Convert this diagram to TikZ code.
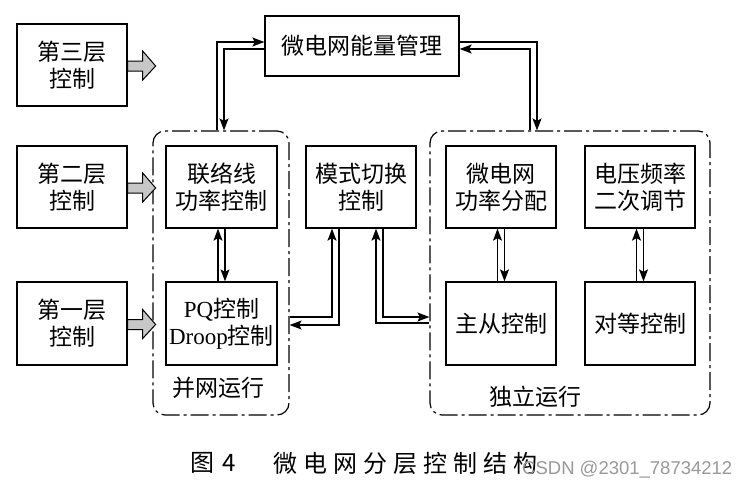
\documentclass[tikz,border=0pt]{standalone}
\usepackage{fontspec}
\setmainfont{Liberation Serif}
\newfontfamily\cjk{Noto Sans CJK SC}
\newfontfamily\capcjk[LetterSpace=25]{Noto Sans CJK SC}
\newfontfamily\wmfont{Liberation Sans}
\usetikzlibrary{arrows.meta,calc}
\tikzset{
  box/.style={draw, line width=1.3pt, inner sep=0pt, align=center,
    minimum width=110pt, minimum height=82pt,
    font=\cjk\fontsize{23}{27}\selectfont},
  region/.style={draw, line width=1.2pt, rounded corners=12pt,
    dash pattern=on 18pt off 4pt on 3pt off 4pt, inner sep=0pt},
  arr/.style={line width=1.2pt, -{Stealth[length=12pt,width=9pt,inset=2.5pt]}},
  blockarrow/.style={draw, line width=1pt, fill=black!22},
  lbl/.style={font=\cjk\fontsize{23}{27}\selectfont, inner sep=0pt}
}
\begin{document}
\begin{tikzpicture}[x=1pt,y=-1pt]
\useasboundingbox[fill=white] (0,0) rectangle (749,491);
% regions
\node[region, minimum width=136pt, minimum height=284pt] (lr) at (221,273) {};
\node[region, minimum width=280pt, minimum height=284pt] (rr) at (570,273) {};
% left layer boxes
\node[box] (l3) at (72,65) {第三层\\控制};
\node[box] (l2) at (72,187) {第二层\\控制};
\node[box, minimum height=83pt] (l1) at (72,323.5) {第一层\\控制};
% top
\node[box, minimum width=194pt, minimum height=60pt] (ems) at (362,46) {微电网能量管理};
% inner boxes
\node[box, minimum width=111pt] (tie) at (221.5,187) {联络线\\功率控制};
\node[box, minimum width=111pt, minimum height=83pt] (pq) at (221.5,323.5) {{\rmfamily PQ}控制\\{\rmfamily Droop}控制};
\node[box] (mode) at (361,187) {模式切换\\控制};
\node[box] (pwr) at (501,187) {微电网\\功率分配};
\node[box] (vf) at (640,187) {电压频率\\二次调节};
\node[box, minimum height=83pt] (ms) at (501,323.5) {主从控制};
\node[box, minimum height=83pt] (peer) at (640,323.5) {对等控制};
% region labels
\node[lbl] (lrl) at (218,388) {并网运行};
\node[lbl] (rrl) at (535,397) {独立运行};
% block arrows
\foreach \b in {l3,l2,l1}{
  \draw[blockarrow] ($(\b.east)+(0,-4)$) -- ++(15,0) -- ++(0,-10)
    -- ($(\b.east)+(28,1)$) -- ($(\b.east)+(15,15)$) -- ++(0,-9)
    -- ($(\b.east)+(0,6)$) -- cycle;
}
% energy management links
\draw[arr] ($(lr.north)+(-4,0)$) |- ($(ems.west)+(0,-4)$);
\draw[arr] ($(ems.west)+(0,3)$) -| ($(lr.north)+(3,0)$);
\draw[arr] ($(ems.east)+(0,-4)$) -| ($(rr.north)+(-33,0)$);
\draw[arr] ($(rr.north)+(-40,0)$) |- ($(ems.east)+(0,3)$);
% vertical pairs
\draw[arr] ($(pq.north)+(-3.5,0)$) -- ($(tie.south)+(-3.5,0)$);
\draw[arr] ($(tie.south)+(3.5,0)$) -- ($(pq.north)+(3.5,0)$);
\draw[arr] ($(ms.north)+(-3.5,0)$) -- ($(pwr.south)+(-3.5,0)$);
\draw[arr] ($(pwr.south)+(3.5,0)$) -- ($(ms.north)+(3.5,0)$);
\draw[arr] ($(peer.north)+(-3.5,0)$) -- ($(vf.south)+(-3.5,0)$);
\draw[arr] ($(vf.south)+(3.5,0)$) -- ($(peer.north)+(3.5,0)$);
% mode switching links
\draw[arr] ($(lr.east)+(0,44)$) -| ($(mode.south)+(-29,0)$);
\draw[arr] ($(mode.south)+(-22,0)$) |- ($(lr.east)+(0,52)$);
\draw[arr] ($(rr.west)+(0,50)$) -| ($(mode.south)+(15,0)$);
\draw[arr] ($(mode.south)+(22,0)$) |- ($(rr.west)+(0,44)$);
% caption
\node[font=\cjk\fontsize{24}{28}\selectfont, inner sep=0pt, anchor=west] (capa) at (190,463) {图\hspace{8pt}4};
\node[font=\capcjk\fontsize{24}{28}\selectfont, inner sep=0pt, anchor=west] (capb) at (273,463) {微电网分层控制结构};
\node[font=\wmfont\fontsize{18.5}{22}\selectfont, text=black!40, inner sep=0pt, anchor=west] (wm) at (522,470) {CSDN @2301\_78734212};
\end{tikzpicture}
\end{document}
